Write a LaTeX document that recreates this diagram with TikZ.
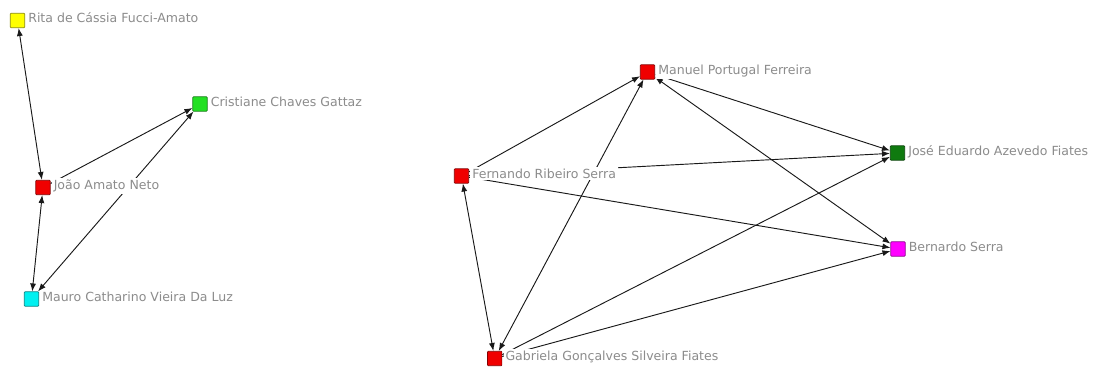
\documentclass[tikz,border=0pt]{standalone}
\usepackage{fontspec}
\setmainfont{DejaVu Sans}
\usetikzlibrary{arrows.meta}
\pgfdeclarelayer{edges}
\pgfsetlayers{edges,main}
\definecolor{labelgray}{HTML}{8C8C8C}
\definecolor{cyellow}{HTML}{FFFF00}
\definecolor{cgreen}{HTML}{22E022}
\definecolor{cred}{HTML}{F00000}
\definecolor{ccyan}{HTML}{00F0F0}
\definecolor{cdgreen}{HTML}{0F7A0F}
\definecolor{cmagenta}{HTML}{FF00FF}
\begin{document}
\begin{tikzpicture}[x=0.75pt,y=-0.75pt,
  vtx/.style={rectangle, draw=#1!55!black, fill=#1, minimum size=10.8pt, inner sep=0pt, line width=0.5pt, rounded corners=0.6pt},
  lbl/.style={font=\fontsize{9.4pt}{11pt}\selectfont, text=labelgray, fill=white, inner sep=1.5pt, anchor=base west},
  tip/.tip={Latex[length=6pt,width=4.5pt]},
  link/.style={draw=black!90, line width=0.7pt, -tip},
  dlink/.style={draw=black!90, line width=0.7pt, tip-tip}
]
\useasboundingbox (0,0) rectangle (1097,367);
% vertices
\node[vtx=cyellow] (rita) at (17.5,20.5) {};
\node[vtx=cgreen] (cris) at (200,104) {};
\node[vtx=cred] (joao) at (43,187.5) {};
\node[vtx=ccyan] (mauro) at (31.5,299) {};
\node[vtx=cred] (man) at (647.5,72) {};
\node[vtx=cred] (fern) at (461.5,176) {};
\node[vtx=cdgreen] (jose) at (897.5,153) {};
\node[vtx=cmagenta] (bern) at (898,249) {};
\node[vtx=cred] (gab) at (494.7,358.5) {};
% labels
\node[lbl] (ritaL) at ([xshift=0.75pt,yshift=-1.6pt]rita.east) {Rita de Cássia Fucci-Amato};
\node[lbl] (crisL) at ([xshift=0.75pt,yshift=-1.6pt]cris.east) {Cristiane Chaves Gattaz};
\node[lbl] (joaoL) at ([xshift=0.75pt,yshift=-1.6pt]joao.east) {João Amato Neto};
\node[lbl] (mauroL) at ([xshift=0.75pt,yshift=-1.6pt]mauro.east) {Mauro Catharino Vieira Da Luz};
\node[lbl] (manL) at ([xshift=0.75pt,yshift=-1.6pt]man.east) {Manuel Portugal Ferreira};
\node[lbl] (fernL) at ([xshift=0.75pt,yshift=-1.6pt]fern.east) {Fernando Ribeiro Serra};
\node[lbl] (joseL) at ([xshift=0.75pt,yshift=-1.6pt]jose.east) {José Eduardo Azevedo Fiates};
\node[lbl] (bernL) at ([xshift=0.75pt,yshift=-1.6pt]bern.east) {Bernardo Serra};
\node[lbl] (gabL) at ([xshift=0.75pt,yshift=-1.6pt]gab.east) {Gabriela Gonçalves Silveira Fiates};
% edges
\begin{pgfonlayer}{edges}
\draw[dlink] (joao) -- (rita);
\draw[link] (joao) -- (cris);
\draw[dlink] (joao) -- (mauro);
\draw[dlink] (mauro) -- (cris);
\draw[link] (fern) -- (man);
\draw[dlink] (gab) -- (man);
\draw[dlink] (man) -- (jose);
\draw[dlink] (bern) -- (man);
\draw[link] (fern) -- (jose);
\draw[link] (fern) -- (bern);
\draw[link] (gab) -- (jose);
\draw[link] (gab) -- (bern);
\draw[dlink] (fern) -- (gab);
\end{pgfonlayer}
\end{tikzpicture}
\end{document}
